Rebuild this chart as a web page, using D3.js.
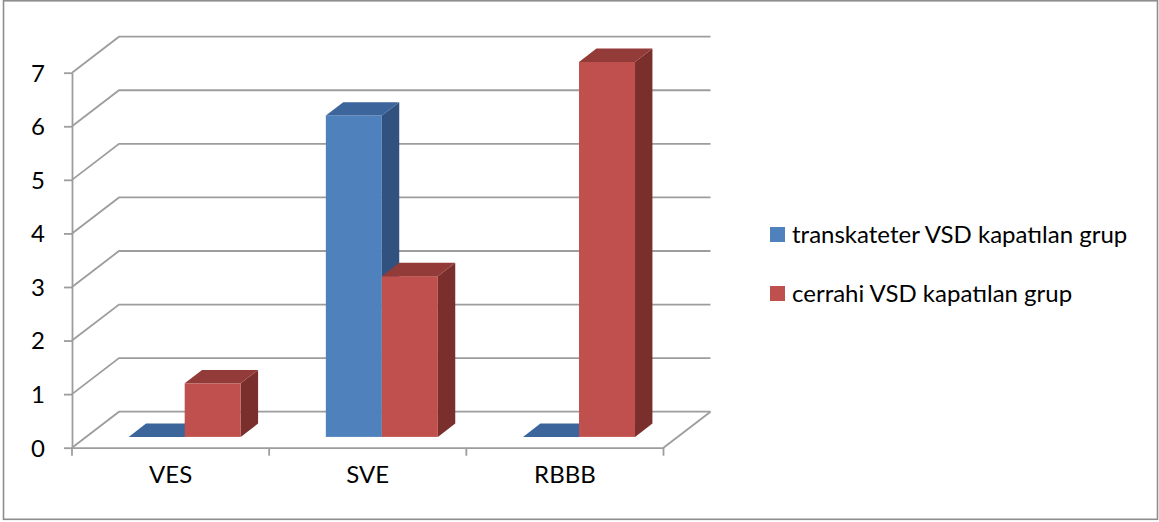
<!DOCTYPE html>
<html>
<head>
<meta charset="utf-8">
<script src="https://cdn.jsdelivr.net/npm/d3@7/dist/d3.min.js"></script>
<style>
  html, body { margin: 0; padding: 0; background: #fff; }
  svg { display: block; }
  .lbl { font-family: Lato, "Open Sans", sans-serif; fill: #000; }
</style>
</head>
<body>
<div id="chart"></div>
<script>
const categories = ['VES', 'SVE', 'RBBB'];
const seriesNames = ['transkateter VSD kapatılan grup', 'cerrahi VSD kapatılan grup'];
const transkateter = [0, 6, 0];
const cerrahi = [1, 3, 7];
const yTicks = [0, 1, 2, 3, 4, 5, 6, 7];

const W = 1159, H = 522;
const plot = {left: 72, right: 663.5, top: 72.7, bottom: 447.7};
// oblique depth of the 3d box (back wall offset)
const DX = 47, DY = 36;
// bar depth inside the box, 0 = front, 1 = back wall
const Z1 = 0.3, Z2 = 0.67;
const fontSize = '24px';

const colors = [
  {front: '#4f81bd', top: '#3c659b', side: '#31527f'},
  {front: '#c0504d', top: '#933b38', side: '#7a2f2d'}
];
const gridColor = '#9d9d9d';

const svg = d3.select('#chart').append('svg')
  .attr('width', W)
  .attr('height', H);

// chart border
svg.append('rect')
  .attr('x', 3.5).attr('y', 0.8)
  .attr('width', 1154).attr('height', 518.5)
  .attr('fill', '#fff')
  .attr('stroke', '#8e8e8e')
  .attr('stroke-width', 1.6);

const x = d3.scaleBand().domain(categories).range([plot.left, plot.right]);
const xs = d3.scaleBand().domain(d3.range(seriesNames.length))
  .range([0, x.bandwidth()]).paddingOuter(0.76);
const y = d3.scaleLinear().domain([0, 7]).range([plot.bottom, plot.top]);

const proj = (px, py, z) => [px + z * DX, py - z * DY];
const poly = pts => 'M' + pts.map(p => p.join(',')).join('L') + 'Z';

// side wall + back wall gridlines
const grid = svg.append('g').attr('fill', 'none')
  .attr('stroke', gridColor).attr('stroke-width', 1.8);
grid.selectAll('path.grid')
  .data(yTicks)
  .enter().append('path')
  .attr('class', 'grid')
  .attr('d', t => {
    const a = proj(plot.left, y(t), 0);
    const b = proj(plot.left, y(t), 1);
    const c = proj(plot.right, y(t), 1);
    return 'M' + [a, b, c].map(p => p.join(',')).join('L');
  });

// floor right edge
grid.append('path')
  .attr('d', 'M' + [proj(plot.right, y(0), 0), proj(plot.right, y(0), 1)].map(p => p.join(',')).join('L'));

// bars, drawn left to right so right faces overlap correctly
const series = [transkateter, cerrahi];
const bars = [];
categories.forEach((c, ci) => {
  series.forEach((vals, si) => {
    bars.push({cat: c, s: si, v: vals[ci]});
  });
});

const barG = svg.selectAll('g.bar')
  .data(bars)
  .enter().append('g')
  .attr('class', 'bar');

barG.each(function(d) {
  const g = d3.select(this);
  const x0 = x(d.cat) + xs(d.s);
  const x1 = x0 + xs.bandwidth();
  const y0 = y(0), y1 = y(d.v);
  const col = colors[d.s];
  if (d.v > 0) {
    // right side
    g.append('path')
      .attr('fill', col.side)
      .attr('d', poly([proj(x1, y0, Z1), proj(x1, y0, Z2), proj(x1, y1, Z2), proj(x1, y1, Z1)]));
    // front
    const f0 = proj(x0, y1, Z1), f1 = proj(x1, y0, Z1);
    g.append('rect')
      .attr('fill', col.front)
      .attr('x', f0[0]).attr('y', f0[1])
      .attr('width', f1[0] - f0[0]).attr('height', f1[1] - f0[1]);
  }
  // top
  g.append('path')
    .attr('fill', col.top)
    .attr('d', poly([proj(x0, y1, Z1), proj(x1, y1, Z1), proj(x1, y1, Z2), proj(x0, y1, Z2)]));
});

// y axis
const yAxis = svg.append('g')
  .attr('transform', `translate(${plot.left},0)`)
  .call(d3.axisLeft(y).tickValues(yTicks).tickFormat(d3.format('d'))
    .tickSize(8).tickSizeOuter(0).tickPadding(19));
yAxis.select('.domain').attr('stroke', gridColor).attr('stroke-width', 1.8);
yAxis.selectAll('.tick line').attr('stroke', gridColor).attr('stroke-width', 1.8);
yAxis.selectAll('.tick text')
  .attr('class', 'lbl')
  .style('font-size', fontSize)
  .attr('dy', '0.35em');

// category axis
const xAxis = svg.append('g')
  .attr('transform', `translate(0,${plot.bottom})`)
  .call(d3.axisBottom(x).tickSize(0).tickSizeOuter(0).tickPadding(27));
xAxis.select('.domain').attr('stroke', gridColor).attr('stroke-width', 1.8);
xAxis.selectAll('.tick text')
  .attr('class', 'lbl')
  .style('font-size', fontSize)
  .attr('dy', '0.35em');

const bounds = categories.map(c => x(c)).concat([plot.right]);
xAxis.selectAll('line.cat-tick')
  .data(bounds)
  .enter().append('line')
  .attr('class', 'cat-tick')
  .attr('x1', d => d).attr('x2', d => d)
  .attr('y1', 0).attr('y2', 8)
  .attr('stroke', gridColor).attr('stroke-width', 1.8);

// legend
const legend = svg.append('g').attr('transform', 'translate(770,227)');
const item = legend.selectAll('g.item')
  .data(seriesNames)
  .enter().append('g')
  .attr('class', 'item')
  .attr('transform', (d, i) => `translate(0,${i * 59})`);
item.append('rect')
  .attr('width', 15).attr('height', 15)
  .attr('fill', (d, i) => colors[i].front);
item.append('text')
  .attr('class', 'lbl')
  .attr('x', 22).attr('y', 16)
  .style('font-size', fontSize)
  .text(d => d);
</script>
</body>
</html>
